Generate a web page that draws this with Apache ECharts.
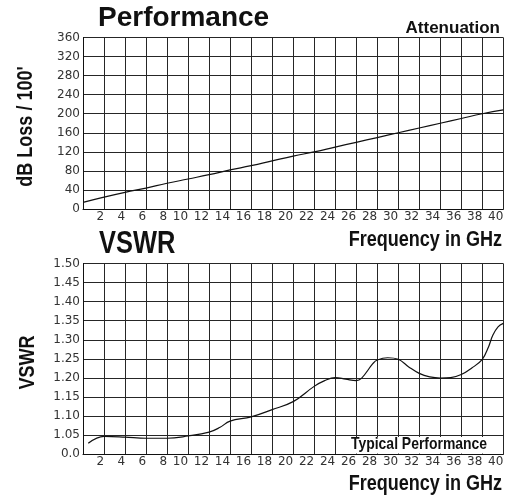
<!DOCTYPE html>
<html>
<head>
<meta charset="utf-8">
<script src="https://cdn.jsdelivr.net/npm/echarts@6/dist/echarts.min.js"></script>
<style>
  html, body { margin: 0; padding: 0; background: #fff; }
  #chart { width: 514px; height: 496px; }
</style>
</head>
<body>
<div id="chart"></div>
<script>
// ---- Data ----
var freqTickLabels = ['', '2', '4', '6', '8', '10', '12', '14', '16', '18', '20', '22', '24', '26', '28', '30', '32', '34', '36', '38', '40'];
var lossTickLabels = ['0', '40', '80', '120', '160', '200', '240', '280', '320', '360'];
var vswrTickLabels = ['0.0', '1.05', '1.10', '1.15', '1.20', '1.25', '1.30', '1.35', '1.40', '1.45', '1.50'];

var attenFreq = [0, 2, 4, 6, 8, 10, 12, 14, 16, 18, 20, 22, 24, 26, 28, 30, 32, 34, 36, 38, 40];
var attenLoss = [14, 25, 35, 44, 54, 63, 72, 82, 91, 101, 111, 120, 130, 140, 150, 160, 170, 180, 190, 200, 208];

var vswrFreq = [0.5, 2, 4, 6, 8, 10, 12, 13, 14, 16, 18, 20, 22, 23, 24, 25, 26, 26.5, 27.6, 28, 29, 30, 31, 32, 33, 34, 35, 36, 37, 38, 38.6, 39, 39.5, 40];
var vswrValue = [1.029, 1.047, 1.045, 1.042, 1.042, 1.048, 1.058, 1.070, 1.087, 1.098, 1.117, 1.138, 1.178, 1.193, 1.201, 1.197, 1.193, 1.199, 1.238, 1.247, 1.253, 1.249, 1.229, 1.212, 1.203, 1.200, 1.201, 1.209, 1.226, 1.249, 1.282, 1.312, 1.334, 1.343];

var titleMain = 'Performance';
var titleAtten = 'Attenuation';
var titleVswr = 'VSWR';
var xName = 'Frequency in GHz';
var yNameTop = "dB Loss / 100'";
var yNameBottom = 'VSWR';
var noteText = 'Typical Performance';

// ---- Build ----
function zip(a, b) { return a.map(function (v, i) { return [v, b[i]]; }); }

var gridColor = '#262626';
var labelFont = { fontFamily: 'DejaVu Sans', fontSize: 12, color: '#333' };
var NARROW = 0.82;

function xAxisDef(gridIndex) {
  return {
    type: 'value', gridIndex: gridIndex, min: 0, max: 40, interval: 2,
    axisLine: { show: true, lineStyle: { color: '#111', width: 1 } },
    axisTick: { show: false },
    splitLine: { show: true, lineStyle: { color: gridColor, width: 1 } },
    axisLabel: Object.assign({
      margin: 2, align: 'right',
      formatter: function (v) { return freqTickLabels[Math.round(v / 2)] || ''; }
    }, labelFont)
  };
}

function txt(text, x, y, size, align, opts) {
  opts = opts || {};
  return {
    type: 'text', x: x, y: y, z: 20,
    rotation: opts.rotation || 0,
    scaleX: opts.scaleX || 1,
    style: {
      text: text, font: 'bold ' + size + 'px "Liberation Sans"', fill: '#111',
      textAlign: align, textVerticalAlign: 'middle'
    }
  };
}

var option = {
  animation: false,
  backgroundColor: '#fff',
  grid: [
    { left: 83, top: 37.5, width: 420.3, height: 171.5 },
    { left: 83, top: 263.5, width: 420.3, height: 190.8 }
  ],
  xAxis: [xAxisDef(0), xAxisDef(1)],
  yAxis: [
    {
      type: 'value', gridIndex: 0, min: 0, max: 360, interval: 40,
      axisLine: { show: true, lineStyle: { color: '#111', width: 1 } },
      axisTick: { show: false },
      splitLine: { show: true, lineStyle: { color: gridColor, width: 1 } },
      axisLabel: Object.assign({
        margin: 3,
        formatter: function (v) { return lossTickLabels[Math.round(v / 40)]; }
      }, labelFont)
    },
    {
      type: 'value', gridIndex: 1, min: 1.0, max: 1.5, interval: 0.05,
      axisLine: { show: true, lineStyle: { color: '#111', width: 1 } },
      axisTick: { show: false },
      splitLine: { show: true, lineStyle: { color: gridColor, width: 1 } },
      axisLabel: Object.assign({
        margin: 3,
        formatter: function (v) { return vswrTickLabels[Math.round((v - 1) / 0.05)]; }
      }, labelFont)
    }
  ],
  series: [
    {
      type: 'line', xAxisIndex: 0, yAxisIndex: 0, data: zip(attenFreq, attenLoss),
      showSymbol: false, smooth: true, lineStyle: { color: '#111', width: 1.2 }
    },
    {
      type: 'line', xAxisIndex: 1, yAxisIndex: 1, data: zip(vswrFreq, vswrValue),
      showSymbol: false, smooth: 0.4, lineStyle: { color: '#111', width: 1.2 }
    }
  ],
  graphic: [
    txt(titleMain, 98, 18, 28, 'left'),
    txt(titleAtten, 500, 28.5, 17, 'right'),
    txt(titleVswr, 99, 244, 31, 'left', { scaleX: NARROW }),
    txt(xName, 502, 239.5, 22, 'right', { scaleX: NARROW }),
    txt(xName, 502, 483.5, 22, 'right', { scaleX: NARROW }),
    txt(yNameTop, 26, 126.5, 22, 'center', { rotation: Math.PI / 2, scaleX: NARROW }),
    txt(yNameBottom, 28, 362.5, 22, 'center', { rotation: Math.PI / 2, scaleX: NARROW }),
    { type: 'rect', z: 19, shape: { x: 347, y: 437, width: 143, height: 16.5 }, style: { fill: '#fff' } },
    txt(noteText, 351, 444.5, 17, 'left', { scaleX: NARROW })
  ]
};

var chart = echarts.init(document.getElementById('chart'), null, { renderer: 'canvas' });
chart.setOption(option);
</script>
</body>
</html>
